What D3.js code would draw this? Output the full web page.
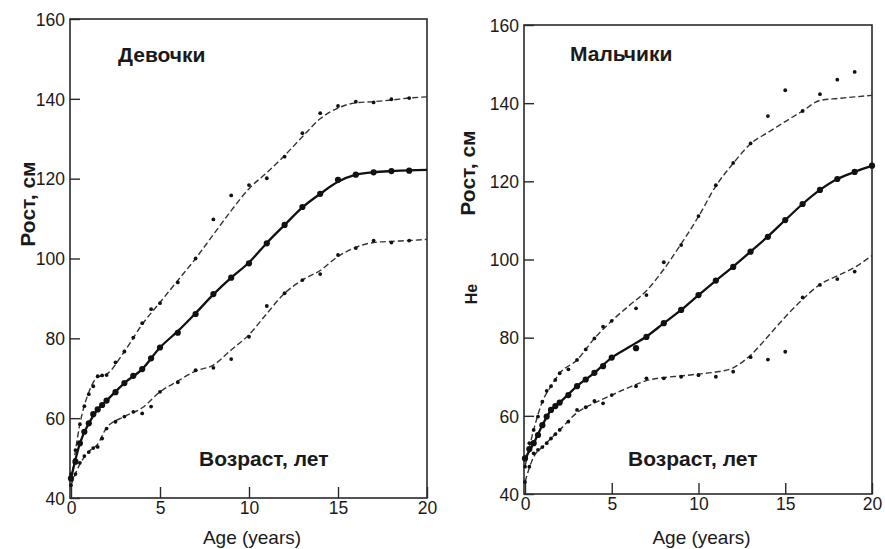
<!DOCTYPE html>
<html>
<head>
<meta charset="utf-8">
<script src="https://cdn.jsdelivr.net/npm/d3@7"></script>
<style>
  body { margin: 0; background: #fff; }
  svg { display: block; }
  text { font-family: "Liberation Sans", Arial, sans-serif; fill: #1a1a1a; }
  .lbl { font-weight: bold; font-size: 21px; }
</style>
</head>
<body>
<svg id="chart" width="885" height="549"></svg>
<script>
// tick labels
const xTicks = [0, 5, 10, 15, 20];
const yTicks = [40, 60, 80, 100, 120, 140, 160];

// ages for the drawn (fitted) curves
const curveAges = [0, 0.5, 1, 1.5, 2, 3, 4, 5, 6, 7, 8, 9, 10, 11, 12, 13, 14, 15, 16, 17, 18, 19, 20];

// girls
const girlsAges = [0, 0.25, 0.5, 0.75, 1, 1.25, 1.5, 1.75, 2, 2.5, 3, 3.5, 4, 4.5, 5, 6, 7, 8, 9, 10, 11, 12, 13, 14, 15, 16, 17, 18, 19];
const girlsMedian = [44.9, 49.1, 53.7, 56.6, 58.7, 61.0, 62.2, 63.3, 64.4, 66.5, 68.8, 70.6, 72.3, 75.0, 77.7, 81.4, 86.1, 91.1, 95.2, 98.8, 103.8, 108.4, 112.9, 116.2, 119.7, 121.0, 121.6, 121.9, 122.0];
const girlsUpper = [46, 52, 58.5, 63, 66, 68, 70.5, 70.7, 70.8, 74, 76.7, 80.2, 83.8, 87.3, 88.8, 94, 100, 109.8, 115.8, 118.4, 120.1, 125.5, 131.4, 136.4, 138.2, 139.3, 139.1, 139.9, 140.2];
const girlsLower = [43.2, 46, 48.8, 50.5, 51.5, 52.5, 52.8, 54.9, 57.4, 59.1, 60.4, 61.6, 61.2, 62.9, 66.6, 69.0, 72.0, 72.6, 74.8, 80.4, 88.1, 91.3, 94.6, 96.1, 100.9, 102.6, 104.5, 104.0, 104.5];
const girlsMedianCurve = [44.9, 53.7, 58.7, 62.2, 64.4, 68.8, 72.3, 77.7, 81.8, 86.3, 91, 95.2, 99, 103.9, 108.4, 112.8, 116.2, 119.2, 121, 121.6, 121.9, 122.1, 122.2];
const girlsUpperCurve = [44, 58.5, 66.5, 70.3, 71, 76.7, 83.5, 89, 94.5, 100, 106, 112, 117.5, 121.5, 125.8, 130.5, 135, 137.7, 139, 139.3, 139.7, 140.2, 140.5];
const girlsLowerCurve = [43.2, 48.5, 51.6, 53.5, 57.6, 60.4, 62.6, 66.6, 69.3, 71.8, 73.3, 77.1, 80.9, 86.2, 91.3, 94.6, 97, 100.5, 102.8, 104, 104.3, 104.5, 104.8];

// boys
const boysAges = [0, 0.25, 0.5, 0.75, 1, 1.25, 1.5, 1.75, 2, 2.5, 3, 3.5, 4, 4.5, 5, 6.4, 7, 8, 9, 10, 11, 12, 13, 14, 15, 16, 17, 18, 19, 20];
const boysMedian = [49.1, 51.5, 53.0, 55.1, 57.6, 59.8, 61.5, 62.5, 63.4, 65.3, 67.6, 69.3, 71.0, 72.7, 74.9, 77.3, 80.2, 83.7, 87.1, 90.9, 94.6, 98.1, 102.0, 105.8, 110.1, 114.2, 117.8, 120.6, 122.4, 124.0];
const boysUpper = [47, 53, 56.4, 59.8, 63.6, 66.4, 67.6, 69.2, 70.9, 71.9, 74.3, 77.0, 79.8, 82.8, 84.3, 87.5, 90.9, 99.3, 103.7, 111.1, 119.0, 124.7, 129.7, 136.7, 143.3, 138.0, 142.3, 146.0, 148.0, null];
const boysLower = [43.1, 47, 50.4, 51.3, 52, 53.0, 54.2, 55.3, 56.4, 58.5, 61.5, 62.2, 63.8, 63.2, 65.3, 67.6, 69.6, 69.6, 70.0, 70.4, 70.0, 71.3, 75.0, 74.4, 76.4, 90.3, 93.5, 95.0, 96.9, null];
const boysMedianCurve = [49.1, 53, 57.6, 61.5, 63.4, 67.6, 71.0, 74.9, 77.6, 80.3, 83.7, 87.1, 90.9, 94.6, 98.2, 102, 105.9, 110.1, 114.2, 117.8, 120.6, 122.4, 124.0];
const boysUpperCurve = [47, 56.4, 63.6, 67.6, 70.9, 74.3, 79.8, 84.3, 88.2, 92, 97.5, 104, 111, 118.8, 124.6, 129.6, 132.5, 135.3, 138, 140.7, 141.2, 141.6, 142];
const boysLowerCurve = [43.1, 49.5, 52, 54.2, 56.4, 60.8, 63.3, 65.3, 67.3, 69, 69.8, 70.2, 70.7, 71.2, 72.3, 75.5, 80.3, 85.3, 89.8, 93.6, 95.8, 98, 101];

var svg = d3.select("#chart");

function drawPanel(p) {
  var x = d3.scaleLinear().domain([0, 20]).range([p.left, p.right]);
  var y = d3.scaleLinear().domain([40, 160]).range([p.bottom, p.top]);
  var g = svg.append("g");

  // frame
  g.append("rect")
    .attr("x", p.left - 1).attr("y", p.top)
    .attr("width", p.right - p.left + 1).attr("height", p.bottom - p.top)
    .attr("fill", "none").attr("stroke", "#2a2a2a").attr("stroke-width", 1.6);

  var yAxis = g.append("g")
    .attr("transform", `translate(${p.left - 1},0)`)
    .call(d3.axisLeft(y).tickValues(yTicks).tickSizeInner(-10).tickSizeOuter(0).tickPadding(5));
  var xAxis = g.append("g")
    .attr("transform", `translate(0,${p.bottom})`)
    .call(d3.axisBottom(x).tickValues(xTicks).tickSizeInner(-11).tickSizeOuter(0).tickPadding(4));
  [xAxis, yAxis].forEach(a => {
    a.select(".domain").remove();
    a.selectAll(".tick line").attr("stroke", "#2a2a2a").attr("stroke-width", 1.4);
    a.selectAll(".tick text")
      .style("font-size", "17.5px")
      .style("font-family", "'Liberation Sans', Arial, sans-serif")
      .attr("fill", "#1a1a1a");
  });
  yAxis.selectAll(".tick text").attr("dy", "0.36em");

  var line = d3.line()
    .x((d, i) => x(curveAges[i]))
    .y(d => y(d))
    .curve(d3.curveMonotoneX);

  // dashed percentile curves
  [p.upperCurve, p.lowerCurve].forEach(c => {
    g.append("path").datum(c)
      .attr("d", line)
      .attr("fill", "none")
      .attr("stroke", "#333")
      .attr("stroke-width", 1.4)
      .attr("stroke-dasharray", "6,3");
  });
  // median
  g.append("path").datum(p.medianCurve)
    .attr("d", line)
    .attr("fill", "none")
    .attr("stroke", "#111")
    .attr("stroke-width", 2.3);

  // observed points
  function dots(vals, r) {
    g.append("g").selectAll("circle")
      .data(vals.map((v, i) => ({a: p.ages[i], v: v})).filter(d => d.v != null))
      .enter().append("circle")
      .attr("cx", d => x(d.a))
      .attr("cy", d => y(d.v))
      .attr("r", r)
      .attr("fill", "#111");
  }
  dots(p.upper, 1.9);
  dots(p.lower, 1.9);
  dots(p.median, 3.1);

  // labels
  g.append("text").attr("class", "lbl")
    .attr("x", p.titleX).attr("y", p.titleY).text(p.title);
  g.append("text").attr("class", "lbl")
    .attr("x", p.ageRuX).attr("y", 466).text("Возраст, лет");
  g.append("text")
    .attr("x", (p.left + p.right) / 2 + 3).attr("y", 544)
    .attr("text-anchor", "middle")
    .style("font-size", "19px")
    .text("Age (years)");
  g.append("text").attr("class", "lbl")
    .attr("transform", `translate(${p.yLabX},${p.yLabY}) rotate(-90)`)
    .attr("text-anchor", "middle")
    .text("Рост, см");
}

drawPanel({
  left: 71, right: 427, top: 19, bottom: 498,
  ages: girlsAges, median: girlsMedian, upper: girlsUpper, lower: girlsLower,
  medianCurve: girlsMedianCurve, upperCurve: girlsUpperCurve, lowerCurve: girlsLowerCurve,
  title: "Девочки", titleX: 118, titleY: 62, ageRuX: 199,
  yLabX: 35, yLabY: 204
});

drawPanel({
  left: 525, right: 872, top: 25, bottom: 494,
  ages: boysAges, median: boysMedian, upper: boysUpper, lower: boysLower,
  medianCurve: boysMedianCurve, upperCurve: boysUpperCurve, lowerCurve: boysLowerCurve,
  title: "Мальчики", titleX: 570, titleY: 61, ageRuX: 628,
  yLabX: 475, yLabY: 173
});

// stray fragment of the original English axis title
svg.append("text")
  .attr("transform", "translate(477,294) rotate(-90)")
  .attr("text-anchor", "middle")
  .style("font-size", "16px")
  .style("font-weight", "bold")
  .text("He");
</script>
</body>
</html>
